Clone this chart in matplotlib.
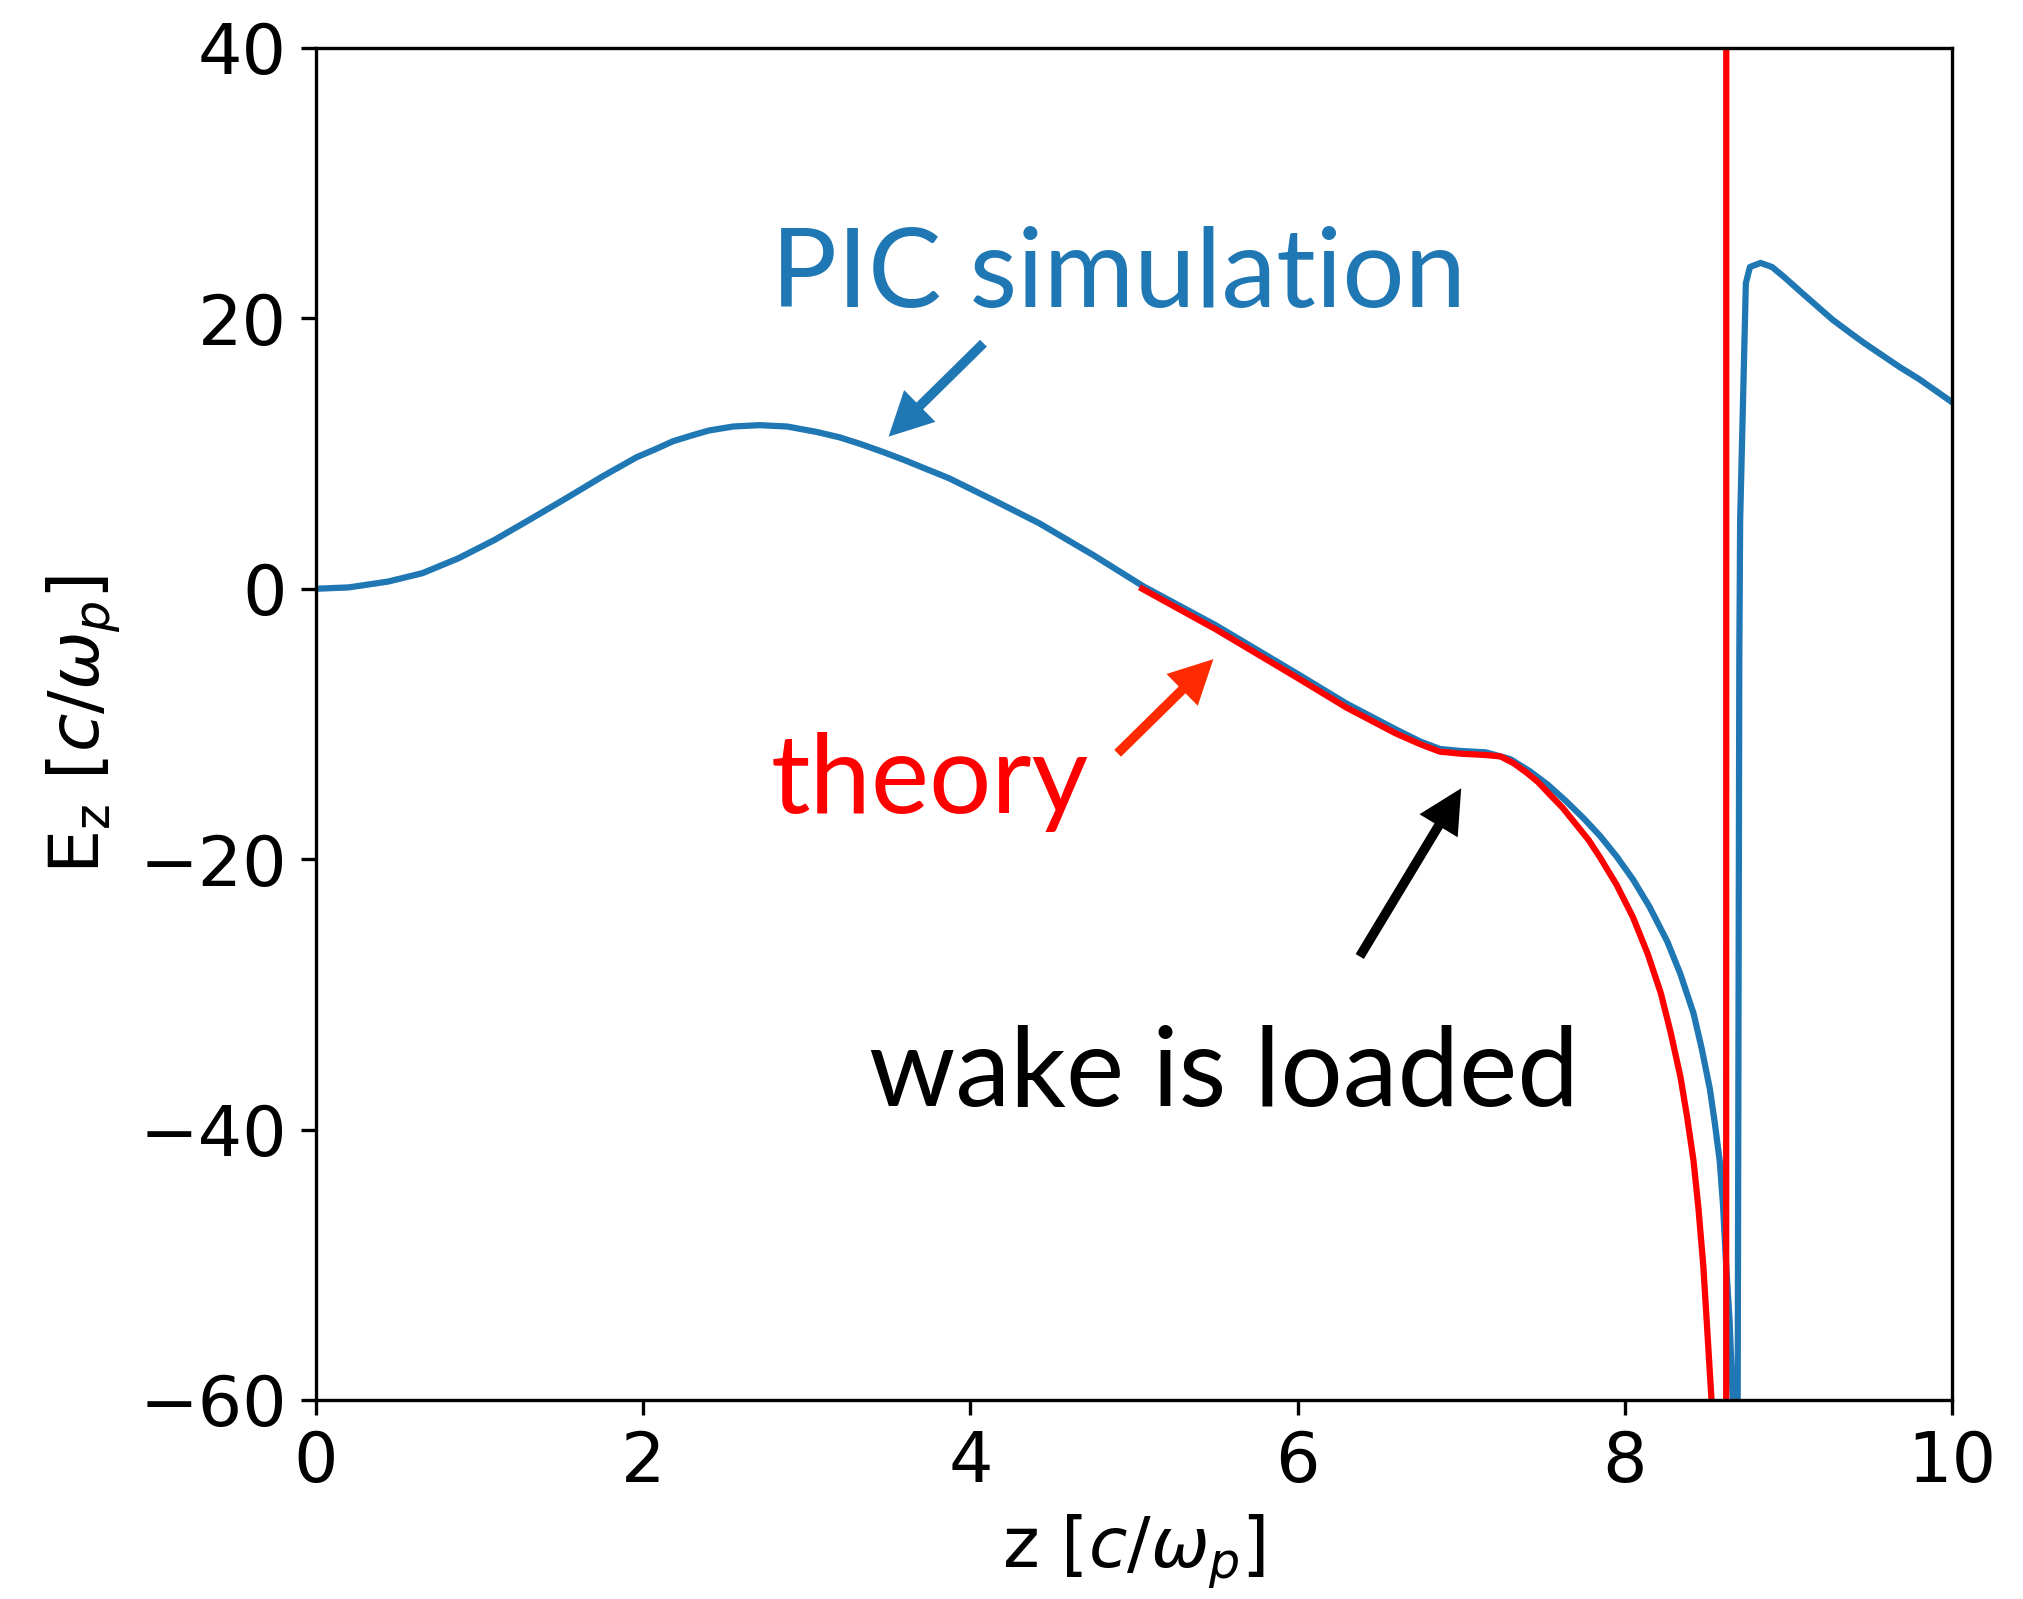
import matplotlib
matplotlib.use('Agg')
import matplotlib.pyplot as plt

# PIC simulation
z_pic = [0.0, 0.2, 0.44, 0.65, 0.87, 1.09, 1.31, 1.53, 1.75, 1.96, 2.08, 2.18,
         2.30, 2.40, 2.55, 2.71, 2.88, 3.06, 3.2, 3.33, 3.47, 3.6, 3.87, 4.15,
         4.42, 4.75, 5.06, 5.5, 6.0, 6.3, 6.6, 6.75, 6.87, 7.0, 7.15, 7.3,
         7.42, 7.53, 7.64, 7.75, 7.85, 7.95, 8.05, 8.15, 8.26, 8.34, 8.42,
         8.47, 8.52, 8.55, 8.58, 8.60, 8.62, 8.64, 8.66, 8.675, 8.69, 8.70,
         8.705, 8.74, 8.765, 8.83, 8.9, 8.97, 9.1, 9.27, 9.37, 9.46, 9.57,
         9.68, 9.8, 10.0]
ez_pic = [0.0, 0.1, 0.53, 1.15, 2.25, 3.6, 5.14, 6.7, 8.3, 9.73, 10.35, 10.9,
          11.35, 11.7, 12.0, 12.1, 12.0, 11.6, 11.2, 10.7, 10.1, 9.5, 8.17,
          6.5, 4.85, 2.5, 0.16, -2.7, -6.3, -8.5, -10.4, -11.3, -11.85, -12.0,
          -12.1, -12.6, -13.5, -14.5, -15.7, -17.0, -18.3, -19.8, -21.5,
          -23.5, -26.1, -28.5, -31.4, -34.0, -37.0, -39.5, -42.3, -45.5,
          -50.1, -54.0, -60.0, -75.0, -60.0, -5.0, 5.0, 22.6, 23.8, 24.1,
          23.8, 23.1, 21.7, 19.9, 19.0, 18.2, 17.3, 16.4, 15.5, 13.8]

# theory
z_th = [5.05, 5.5, 6.0, 6.3, 6.6, 6.75, 6.87, 7.0, 7.15, 7.24, 7.32, 7.4,
        7.47, 7.54, 7.62, 7.7, 7.78, 7.85, 7.95, 8.05, 8.14, 8.22, 8.28, 8.34,
        8.38, 8.42, 8.45, 8.48, 8.50, 8.53, 8.57, 8.60, 8.615, 8.625, 8.64,
        8.8, 9.2, 10.0]
ez_th = [0.0, -3.0, -6.6, -8.8, -10.7, -11.5, -12.05, -12.2, -12.3, -12.4,
         -12.9, -13.6, -14.3, -15.2, -16.2, -17.4, -18.6, -19.9, -21.9, -24.3,
         -27.0, -29.9, -32.8, -36.1, -39.0, -42.3, -45.8, -50.1, -54.0, -60.0,
         -80.0, -150.0, -1000.0, 1000.0, 300.0, 120.0, 80.0, 60.0]

fig = plt.figure(figsize=(2023 / 300, 1599 / 300), dpi=300)
ax = fig.add_axes([0.1562, 0.1245, 0.9649 - 0.1562, 0.970 - 0.1245])

ax.plot(z_pic, ez_pic, color='#1f77b4', lw=1.5)
ax.plot(z_th, ez_th, color='red', lw=1.5)

ax.set_xlim(0, 10)
ax.set_ylim(-60, 40)
ax.set_xticks([0, 2, 4, 6, 8, 10])
ax.set_yticks([-60, -40, -20, 0, 20, 40])
ax.tick_params(labelsize=16.8)
ax.set_xlabel(r'z [$c/\omega_p$]', fontsize=16.8)
ax.set_ylabel(r'E$_\mathrm{z}$ [$c/\omega_p$]', fontsize=16.8)

lato = 'Lato'
ax.text(2.78, 20.87, 'PIC simulation', color='#1f77b4', fontsize=26.4,
        family=lato, va='baseline', ha='left')
ax.text(2.78, -16.6, 'theory', color='red', fontsize=26.4,
        family=lato, va='baseline', ha='left')
ax.text(3.38, -38.25, 'wake is loaded', color='black', fontsize=26.4,
        family=lato, va='baseline', ha='left')

def arrow(tail, tip, c):
    ax.annotate('', xy=tip, xytext=tail,
                arrowprops=dict(facecolor=c, edgecolor='none', width=2.3,
                                headwidth=10.7, headlength=10.5, shrink=0))

arrow((4.08, 18.16), (3.50, 11.25), '#1f77b4')
arrow((4.90, -12.17), (5.485, -5.21), '#ff2a00')
arrow((6.38, -27.2), (7.00, -14.76), 'black')

fig.savefig('out.png', dpi=300, facecolor='white')
